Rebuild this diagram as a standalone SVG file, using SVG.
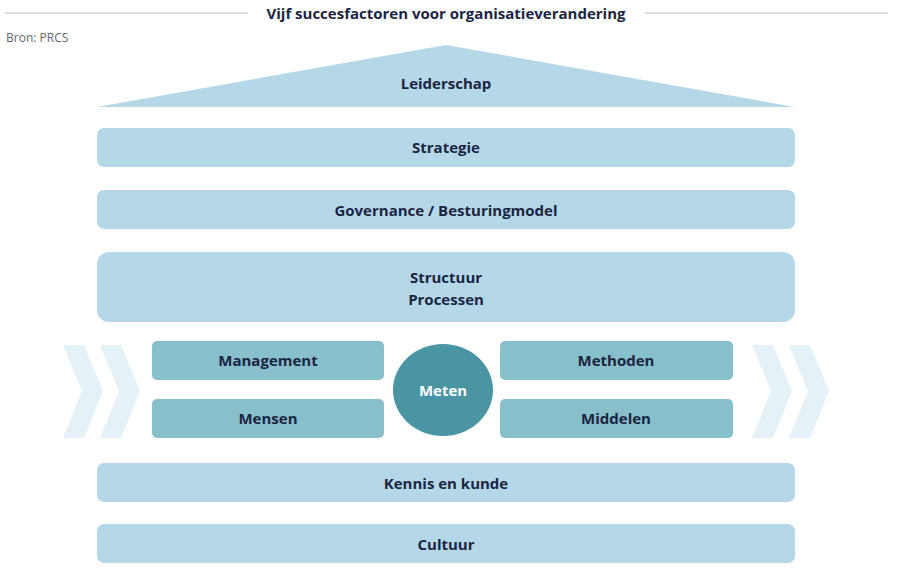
<svg xmlns="http://www.w3.org/2000/svg" width="900" height="570" viewBox="0 0 900 570">
<style>
.bar{fill:#b5d8e9}
.box{fill:#87bfca}
.chev{fill:#e4f1f6}
text{font-family:"Open Sans","Liberation Sans",sans-serif;font-weight:bold;fill:#1b2542;font-size:15px;text-anchor:middle}
</style>
<rect width="900" height="570" fill="#fff"/>
<line x1="5" y1="13" x2="248" y2="13" stroke="#bbb" stroke-width="1"/>
<line x1="645" y1="13" x2="888" y2="13" stroke="#bbb" stroke-width="1"/>
<text x="446" y="19" font-size="15">Vijf succesfactoren voor organisatieverandering</text>
<text x="6" y="42" style="font-weight:normal;fill:#666;font-size:12px;text-anchor:start">Bron: PRCS</text>
<g id="chevrons">
<polygon class="chev" points="63,345 84,345 103,391 84,438 63,438 82,391"/>
<polygon class="chev" points="100,345 121,345 140,391 121,438 100,438 119,391"/>
<polygon class="chev" points="752,345 773,345 792,391 773,438 752,438 771,391"/>
<polygon class="chev" points="789,345 810,345 829,391 810,438 789,438 808,391"/>
</g>
<g id="leiderschap"><polygon class="bar" points="97,107 446,45 795,107"/><text x="446" y="89">Leiderschap</text></g>
<g id="strategie"><rect class="bar" x="97" y="128" width="698" height="39" rx="7"/><text x="446" y="153">Strategie</text></g>
<g id="governance"><rect class="bar" x="97" y="190" width="698" height="39" rx="7"/><text x="446" y="216">Governance / Besturingmodel</text></g>
<g id="structuur"><rect class="bar" x="97" y="252" width="698" height="70" rx="12"/><text x="446" y="283">Structuur</text><text x="446" y="305">Processen</text></g>
<g id="management"><rect class="box" x="152" y="341" width="232" height="39" rx="5"/><text x="268" y="366">Management</text></g>
<g id="mensen"><rect class="box" x="152" y="399" width="232" height="39" rx="5"/><text x="268" y="424">Mensen</text></g>
<g id="methoden"><rect class="box" x="500" y="341" width="233" height="39" rx="5"/><text x="616" y="366">Methoden</text></g>
<g id="middelen"><rect class="box" x="500" y="399" width="233" height="39" rx="5"/><text x="616" y="424">Middelen</text></g>
<g id="meten"><ellipse cx="443" cy="390" rx="50" ry="46" fill="#4a95a3"/><text x="443" y="396" style="fill:#fff">Meten</text></g>
<g id="kennis"><rect class="bar" x="97" y="463" width="698" height="39" rx="7"/><text x="446" y="489">Kennis en kunde</text></g>
<g id="cultuur"><rect class="bar" x="97" y="524" width="698" height="39" rx="7"/><text x="446" y="550">Cultuur</text></g>
<g id="connectors"/>
</svg>
